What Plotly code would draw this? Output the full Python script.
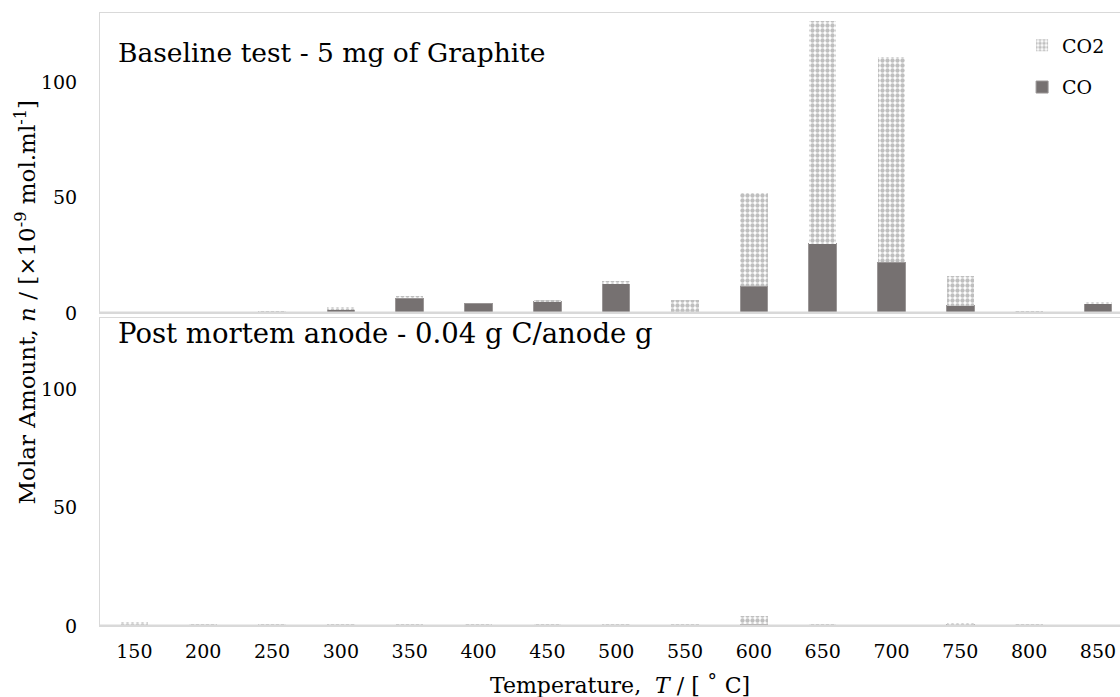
import plotly.graph_objects as go

temps = ["150", "200", "250", "300", "350", "400", "450", "500", "550", "600", "650", "700", "750", "800", "850"]

# Baseline test - 5 mg of Graphite
base_co = [0, 0, 0, 1.5, 6.5, 4.0, 4.8, 12.6, 0, 11.6, 30.0, 22.0, 3.2, 0, 4.0]
base_co2 = [0, 0, 0.8, 1.0, 0.5, 0, 0.5, 1.3, 5.7, 40.4, 96.5, 89.0, 12.8, 0.7, 0.6]

# Post mortem anode - 0.04 g C/anode g
post_co = [0, 0, 0, 0, 0, 0, 0, 0, 0, 0.8, 0, 0, 0.7, 0, 0]
post_co2 = [1.7, 0.6, 0.6, 0.9, 0.5, 0.5, 0.5, 0.8, 0.7, 3.4, 0.5, 0.3, 0.3, 0.5, 0]

FONT = "DejaVu Serif"
CO_COLOR = "#767171"
GRID = "#d9d9d9"

co2_pattern = dict(shape=".", fgcolor="#808080", bgcolor="white", size=5, solidity=0.6, fillmode="overlay")

fig = go.Figure()
# top panel (x2, y2)
fig.add_trace(go.Bar(x=temps, y=base_co, name="CO", marker=dict(color=CO_COLOR, line=dict(color="#9a9696", width=1)),
                     xaxis="x2", yaxis="y2", legendgroup="co", legendrank=2))
fig.add_trace(go.Bar(x=temps, y=base_co2, name="CO2", marker=dict(color="white", pattern=co2_pattern, line=dict(width=0)),
                     xaxis="x2", yaxis="y2", legendgroup="co2", legendrank=1))
# bottom panel
fig.add_trace(go.Bar(x=temps, y=post_co, name="CO", marker=dict(color=CO_COLOR, line=dict(color="#9a9696", width=1)),
                     xaxis="x", yaxis="y", showlegend=False, legendgroup="co", legendrank=2))
fig.add_trace(go.Bar(x=temps, y=post_co2, name="CO2", marker=dict(color="white", pattern=co2_pattern, line=dict(width=0)),
                     xaxis="x", yaxis="y", showlegend=False, legendgroup="co2", legendrank=1))

xr = [-0.5, 14.32]
yaxis_common = dict(range=[0, 130], tickvals=[0, 50, 100], showgrid=False, zeroline=False,
                    showline=True, mirror=True, linecolor=GRID, linewidth=1,
                    ticks="outside", ticklen=18, tickcolor="white",
                    tickfont=dict(family=FONT, size=19, color="black"))

fig.update_layout(
    width=1120, height=697,
    margin=dict(l=100, r=0, t=13, b=71, autoexpand=False),
    paper_bgcolor="white", plot_bgcolor="white",
    barmode="stack", bargap=0.6,
    font=dict(family=FONT, size=19, color="black"),
    xaxis=dict(domain=[0, 1], range=xr, anchor="y", showgrid=False, showline=True, mirror=True,
               linecolor=GRID, linewidth=1, ticks="outside", ticklen=8, tickcolor="white",
               tickfont=dict(family=FONT, size=19, color="black")),
    yaxis=dict(domain=[0, 0.5024], anchor="x", **yaxis_common),
    xaxis2=dict(domain=[0, 1], range=xr, anchor="y2", matches="x", showticklabels=False, showgrid=False,
                showline=True, mirror=True, linecolor=GRID, linewidth=1),
    yaxis2=dict(domain=[0.5106, 1], anchor="x2", **yaxis_common),
    legend=dict(x=0.904, y=0.978, xanchor="left", yanchor="top", bgcolor="rgba(0,0,0,0)",
                traceorder="grouped", font=dict(family=FONT, size=19), itemwidth=30, tracegroupgap=14),
    showlegend=True,
    shapes=[
        dict(type="line", xref="x2 domain", yref="y2", x0=0, x1=1, y0=0, y1=0, line=dict(color=GRID, width=3)),
        dict(type="line", xref="x domain", yref="y", x0=0, x1=1, y0=0, y1=0, line=dict(color=GRID, width=3)),
    ],
    annotations=[
        dict(text="Baseline test - 5 mg of Graphite", xref="paper", yref="paper", x=0.016, y=0.935,
             xanchor="left", yanchor="middle", showarrow=False, font=dict(family=FONT, size=26.5)),
        dict(text="Post mortem anode - 0.04 g C/anode g", xref="paper", yref="paper", x=0.016, y=0.478,
             xanchor="left", yanchor="middle", showarrow=False, font=dict(family=FONT, size=27.5)),
        dict(text="Molar Amount, <i>n</i> / [×10<sup>-9</sup> mol.ml<sup>-1</sup>]", xref="paper", yref="paper",
             x=-0.073, y=0.527, xanchor="center", yanchor="middle", textangle=-90, showarrow=False,
             font=dict(family=FONT, size=23)),
        dict(text="Temperature,  <i>T</i> / [ ˚ C]", xref="paper", yref="paper", x=0.51, y=-0.097,
             xanchor="center", yanchor="middle", showarrow=False, font=dict(family=FONT, size=22)),
    ],
)

fig.write_html("out.html")
